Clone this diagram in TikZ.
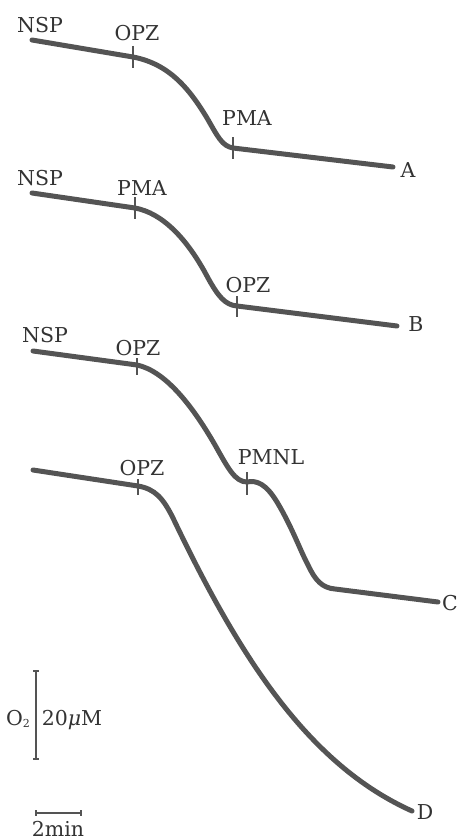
\documentclass[tikz,border=0pt]{standalone}
\usepackage{fontspec}
\setmainfont{DejaVu Serif}
\usetikzlibrary{calc}
\begin{document}
\begin{tikzpicture}[x=1pt,y=-1pt,
  trace/.style={draw=tracegray,line width=5pt,line cap=round,line join=round},
  tickmark/.style={draw=tracegray,line width=1.9pt},
  lab/.style={inner sep=0pt,text=labgray,font=\fontsize{20.5}{22}\selectfont,text depth=0pt},
  scalebar/.style={draw=tracegray,line width=2.3pt}]
\definecolor{tracegray}{HTML}{545454}
\definecolor{labgray}{HTML}{333333}
\useasboundingbox (0,0) rectangle (458,840);
% ---- A ----
\coordinate (a0) at (32,40);
\coordinate (a1) at (133,57);
\coordinate (a2) at (233,148);
\coordinate (a3) at (393,167);
\draw[trace] (a0) -- (a1) .. controls (170,64) and (190,90) .. (207,118)
  .. controls (218,137) and (222,146) .. (a2) -- (a3);
\draw[tickmark] ($(a1)+(0,-11)$) -- ($(a1)+(0,11)$);
\draw[tickmark] ($(a2)+(0,-11)$) -- ($(a2)+(0,11)$);
\node[lab] (nspA) at (40,25) {NSP};
\node[lab] (opzA) at (137,33) {OPZ};
\node[lab] (pmaA) at (247,118) {PMA};
\node[lab] (labA) at (408,170) {A};
% ---- B ----
\coordinate (b0) at (32,193);
\coordinate (b1) at (135,208);
\coordinate (b2) at (237,306);
\coordinate (b3) at (397,326);
\draw[trace] (b0) -- (b1) .. controls (162,213) and (187,238) .. (208,278)
  .. controls (218,296) and (225,305) .. (b2) -- (b3);
\draw[tickmark] ($(b1)+(0,-11)$) -- ($(b1)+(0,11)$);
\draw[tickmark] ($(b2)+(0,-10)$) -- ($(b2)+(0,11)$);
\node[lab] (nspB) at (40,178) {NSP};
\node[lab] (pmaB) at (142,188) {PMA};
\node[lab] (opzB) at (248,285) {OPZ};
\node[lab] (labB) at (416,324) {B};
% ---- C ----
\coordinate (c0) at (33,351);
\coordinate (c1) at (137,365);
\coordinate (c2) at (247,482);
\coordinate (c3) at (335,589);
\coordinate (c4) at (438,602);
\draw[trace] (c0) -- (c1) .. controls (165,371) and (192,405) .. (215,445)
  .. controls (228,468) and (235,482) .. (c2)
  .. controls (257,480) and (266,484) .. (277,502)
  .. controls (292,527) and (300,550) .. (308,565)
  .. controls (315,580) and (322,588) .. (c3) -- (c4);
\draw[tickmark] ($(c1)+(0,-7)$) -- ($(c1)+(0,10)$);
\draw[tickmark] ($(c2)+(0,-10)$) -- ($(c2)+(0,13)$);
\node[lab] (nspC) at (45,335) {NSP};
\node[lab] (opzC) at (138,348) {OPZ};
\node[lab] (pmnlC) at (271,457) {PMNL};
\node[lab] (labC) at (450,603) {C};
% ---- D ----
\coordinate (d0) at (33,470);
\coordinate (d1) at (138,486);
\coordinate (d2) at (412,811);
\draw[trace] (d0) -- (d1) .. controls (155,489) and (163,498) .. (173,518)
  .. controls (243,665) and (312,766) .. (d2);
\draw[tickmark] ($(d1)+(0,-7)$) -- ($(d1)+(0,9)$);
\node[lab] (opzD) at (142,468) {OPZ};
\node[lab] (labD) at (425,812) {D};
% ---- scale bars ----
\coordinate (s0) at (36,671);
\coordinate (s1) at (36,759);
\draw[scalebar] (s0) -- (s1);
\draw[scalebar,line width=1.6pt] ($(s0)+(-3,0)$) -- ($(s0)+(3,0)$);
\draw[scalebar,line width=1.6pt] ($(s1)+(-3,0)$) -- ($(s1)+(3,0)$);
\node[lab] (o2) at (18,718) {O\raisebox{-0.2ex}{\fontsize{11}{11}\selectfont 2}};
\node[lab] (um) at (72,718) {20{\itshape μ}M};
\coordinate (h0) at (36,813);
\coordinate (h1) at (81,813);
\draw[scalebar] (h0) -- (h1);
\draw[scalebar,line width=1.6pt] ($(h0)+(0,-3)$) -- ($(h0)+(0,3)$);
\draw[scalebar,line width=1.6pt] ($(h1)+(0,-3)$) -- ($(h1)+(0,3)$);
\node[lab] (min) at (58,829) {2min};
\end{tikzpicture}
\end{document}
